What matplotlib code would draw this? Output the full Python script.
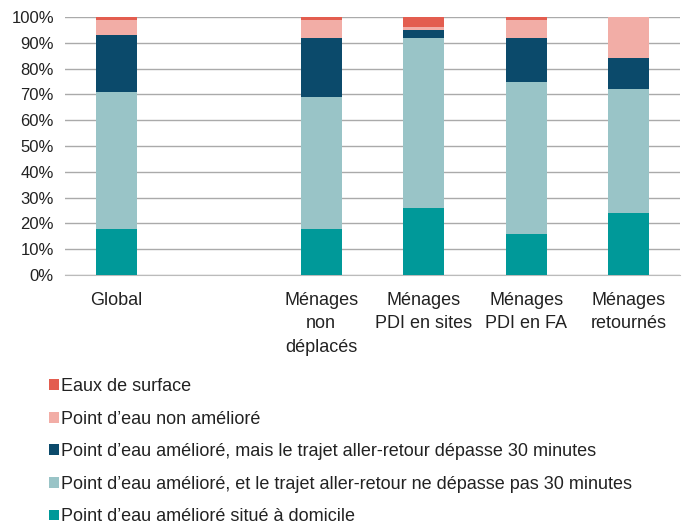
import matplotlib
matplotlib.use("Agg")
import matplotlib.pyplot as plt
import numpy as np

plt.rcParams['font.family'] = ['Liberation Sans Narrow', 'Liberation Sans', 'DejaVu Sans']

categories = ["Global", "", "Ménages\nnon\ndéplacés", "Ménages\nPDI en sites",
              "Ménages\nPDI en FA", "Ménages\nretournés"]
series_names = ["Point d\u2019eau amélioré situé à domicile",
                "Point d\u2019eau amélioré, et le trajet aller-retour ne dépasse pas 30 minutes",
                "Point d\u2019eau amélioré, mais le trajet aller-retour dépasse 30 minutes",
                "Point d\u2019eau non amélioré",
                "Eaux de surface"]
domicile = [18, 0, 18, 26, 16, 24]
moins30 = [53, 0, 51, 66, 59, 48]
plus30 = [22, 0, 23, 3, 17, 12]
non_ameliore = [6, 0, 7, 1, 7, 16]
surface = [1, 0, 1, 4, 1, 0]
colors = ["#009999", "#99C4C7", "#0B4A6B", "#F2ADA6", "#E35D4F"]

fig = plt.figure(figsize=(6.83, 5.24), dpi=100)
ax = fig.add_axes([65/683, 1-275/524, 615/683, 258/524])

x = np.arange(len(categories))
bottom = np.zeros(len(categories))
handles = []
for vals, col, name in zip([domicile, moins30, plus30, non_ameliore, surface], colors, series_names):
    b = ax.bar(x, vals, bottom=bottom, width=0.4, color=col, label=name, zorder=3)
    bottom += np.array(vals)
    handles.append(b)

ax.set_xlim(-0.5, 5.5)
ax.set_ylim(0, 100)
ax.set_yticks(np.arange(0, 101, 10))
ax.set_yticklabels([f"{v}%" for v in range(0, 101, 10)], fontsize=12, color="#222222")
ax.yaxis.grid(True, color="#AAAAAA", linewidth=1, zorder=0)
ax.set_xticks(x)
ax.set_xticklabels(categories, fontsize=13, color="#222222", va="top", linespacing=1.5)
ax.tick_params(axis='both', length=0)
ax.tick_params(axis='x', pad=12)
ax.tick_params(axis='y', pad=8)
for s in ["top", "right", "left"]:
    ax.spines[s].set_visible(False)
ax.spines["bottom"].set_color("#BBBBBB")

leg = fig.legend(handles[::-1], series_names[::-1], loc="upper left",
                 bbox_to_anchor=(33/683, 1-362/524), frameon=False, fontsize=13,
                 handlelength=0.55, handleheight=0.55, handletextpad=0.12,
                 labelspacing=0.86)
for t in leg.get_texts():
    t.set_color("#222222")

fig.savefig("out.png", dpi=100)
